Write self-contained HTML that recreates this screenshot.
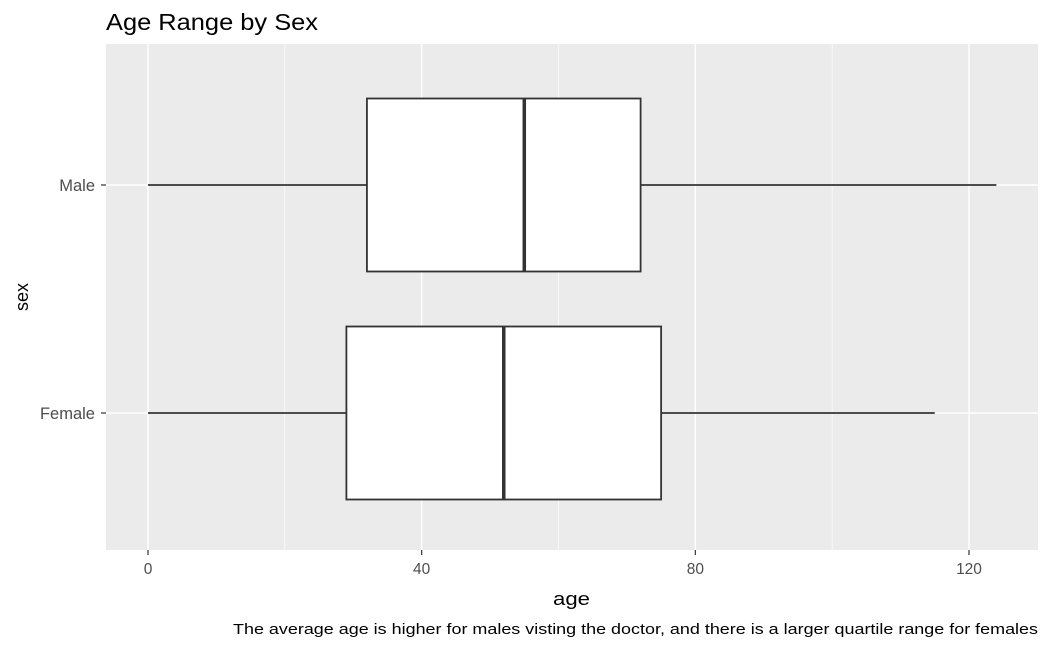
<!DOCTYPE html>
<html><head><meta charset="utf-8"><style>body{margin:0;background:#fff}svg{display:block;font-family:"Liberation Sans",Arial,sans-serif}</style></head>
<body>
<svg id="chart" width="1050" height="648" viewBox="0 0 1050 648">
<text x="106" y="30" font-size="23" textLength="212" lengthAdjust="spacingAndGlyphs" fill="#000">Age Range by Sex</text>
<rect x="106" y="44" width="932" height="506" fill="#ebebeb"/>
<g id="grid"></g><g id="boxes"></g><g id="axes"></g>
<text x="553" y="605" font-size="18" textLength="37" lengthAdjust="spacingAndGlyphs" fill="#000">age</text>
<text transform="translate(28,297) rotate(-90)" font-size="18" text-anchor="middle" fill="#000">sex</text>
<text x="233" y="634" font-size="15" textLength="805" lengthAdjust="spacingAndGlyphs" fill="#000">The average age is higher for males visting the doctor, and there is a larger quartile range for females</text>
</svg>
<script>
const categories=["Male","Female"];
const mins=[0,0];
const q1s=[32,29];
const medians=[55,52];
const q3s=[72,75];
const maxs=[124,115];
const xTicks=[0,40,80,120];
const xMinor=[20,60,100];
const NS="http://www.w3.org/2000/svg";
const x=v=>148+v*(969-148)/120;
const y=i=>185+i*228;
const half=86.5;
function mk(tag,attrs,parent){const e=document.createElementNS(NS,tag);for(const k in attrs)e.setAttribute(k,attrs[k]);document.getElementById(parent).appendChild(e);return e;}
xMinor.forEach(v=>{const l=mk('line',{x1:x(v),x2:x(v),y1:44,y2:550,stroke:'#fff','stroke-width':0.7},'grid');

});
xTicks.forEach(v=>{const l=mk('line',{x1:x(v),x2:x(v),y1:44,y2:550,stroke:'#fff','stroke-width':1.4},'grid');


const t=mk('line',{x1:x(v),x2:x(v),y1:550,y2:555,stroke:'#333','stroke-width':1.2},'axes');


const tx=mk('text',{x:x(v),y:574,'font-size':15.5,'text-anchor':'middle',fill:'#4d4d4d'},'axes');tx.textContent=v;

});
categories.forEach((c,i)=>{const yc=y(i);
const g=mk('line',{x1:106,x2:1038,y1:yc,y2:yc,stroke:'#fff','stroke-width':1.4},'grid');


const t=mk('line',{x1:101,x2:106,y1:yc,y2:yc,stroke:'#333','stroke-width':1.2},'axes');


const tx=mk('text',{x:95,y:yc+6,'font-size':16.5,'text-anchor':'end',fill:'#4d4d4d'},'axes');tx.textContent=c;


const w1=mk('line',{x1:x(mins[i]),x2:x(q1s[i]),y1:yc,y2:yc,stroke:'#333','stroke-width':1.8},'boxes');


const w2=mk('line',{x1:x(q3s[i]),x2:x(maxs[i]),y1:yc,y2:yc,stroke:'#333','stroke-width':1.8},'boxes');


const b=mk('rect',{x:x(q1s[i]),y:yc-half,width:x(q3s[i])-x(q1s[i]),height:2*half,fill:'#fff',stroke:'#333','stroke-width':1.8},'boxes');


const m=mk('line',{x1:x(medians[i]),x2:x(medians[i]),y1:yc-half,y2:yc+half,stroke:'#333','stroke-width':3.5},'boxes');

});
</script>
</body></html>
